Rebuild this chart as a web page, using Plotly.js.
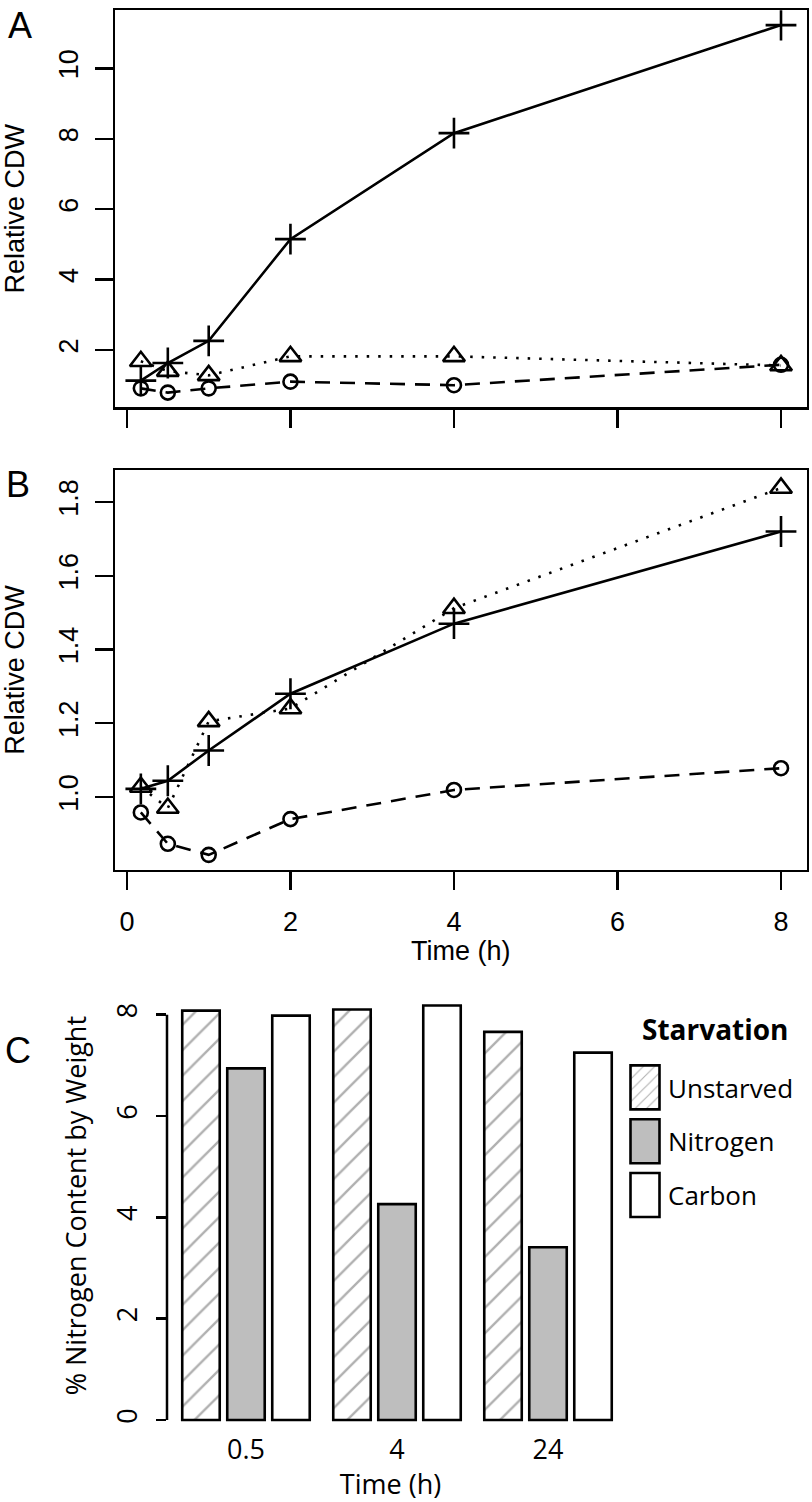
<!DOCTYPE html>
<html><head><meta charset="utf-8">
<script src="https://cdn.plot.ly/plotly-3.0.1.min.js"></script>
<style>body{margin:0;padding:0;background:#fff}#chart{width:812px;height:1502px}</style>
</head><body><div id="chart"></div>
<script>
// ---------- data ----------
const timesH = [0.17, 0.5, 1, 2, 4, 8];
// Panel A (Relative CDW)
const aPlus = [1.13, 1.63, 2.26, 5.15, 8.16, 11.23];
const aTriangle = [1.68, 1.40, 1.28, 1.82, 1.82, 1.56];
const aCircle = [0.91, 0.79, 0.91, 1.10, 1.00, 1.58];
// Panel B (Relative CDW)
const bPlus = [1.022, 1.044, 1.126, 1.28, 1.47, 1.72];
const bTriangle = [1.027, 0.970, 1.205, 1.240, 1.512, 1.838];
const bCircle = [0.958, 0.873, 0.843, 0.940, 1.019, 1.078];
// Panel C (% nitrogen content by weight)
const cTimes = ['0.5', '4', '24'];
const cUnstarved = [8.08, 8.10, 7.66];
const cNitrogen = [6.94, 4.26, 3.41];
const cCarbon = [7.98, 8.18, 7.25];
const cSeriesNames = ['Unstarved', 'Nitrogen', 'Carbon'];
// ticks
const xTicksAB = [0, 2, 4, 6, 8];
const yTicksA = [2, 4, 6, 8, 10];
const yTicksB = [1.0, 1.2, 1.4, 1.6, 1.8];
const yTickTextB = ['1.0', '1.2', '1.4', '1.6', '1.8'];
const yTicksC = [0, 2, 4, 6, 8];

// ---------- layout helpers ----------
const W = 812, H = 1502;
const px = v => v / W;
const py = v => 1 - v / H;
const helv = 'Liberation Sans, Arial, Helvetica, sans-serif';
const myriad = 'Open Sans, Noto Sans, sans-serif';
const black = '#000';

function lineTrace(y, xa, ya, symbol, msize, dash) {
  return {
    x: timesH, y: y, xaxis: xa, yaxis: ya, type: 'scatter', mode: 'lines+markers',
    showlegend: false, hoverinfo: 'skip',
    line: {color: black, width: 2.6, dash: dash},
    marker: {symbol: symbol, size: msize, color: black, line: {color: black, width: 2.6}}
  };
}
const DOT = '2.5px,9px';
const DASH = '15px,10px';

const traces = [
  lineTrace(aPlus, 'x', 'y', 'cross-thin-open', 22, 'solid'),
  lineTrace(aTriangle, 'x', 'y', 'triangle-up-open', 19, DOT),
  lineTrace(aCircle, 'x', 'y', 'circle-open', 14, DASH),
  lineTrace(bPlus, 'x2', 'y2', 'cross-thin-open', 22, 'solid'),
  lineTrace(bTriangle, 'x2', 'y2', 'triangle-up-open', 19, DOT),
  lineTrace(bCircle, 'x2', 'y2', 'circle-open', 14, DASH)
];

const barStyles = [
  {color: '#ffffff', pattern: {shape: '/', fgcolor: '#b0b0b0', bgcolor: '#ffffff', size: 18, solidity: 0.13}},
  {color: '#bebebe'},
  {color: '#ffffff'}
];
[cUnstarved, cNitrogen, cCarbon].forEach((vals, i) => {
  traces.push({
    type: 'bar', x: cTimes, y: vals, name: cSeriesNames[i], xaxis: 'x3', yaxis: 'y3',
    legendgroup: 'g' + i, hoverinfo: 'skip',
    marker: Object.assign({line: {color: black, width: 2.6}}, barStyles[i])
  });
});

const tickFontAB = {family: helv, size: 27, color: black};
const titleFontAB = {family: helv, size: 27, color: black};
const fontC = {family: myriad, size: 27, color: black};
function xAB(anchor, labels) {
  return {
    domain: [px(115), px(806.6)], range: [-0.146, 8.313], anchor: anchor,
    showline: true, mirror: true, linecolor: black, linewidth: 2.5,
    ticks: 'outside', ticklen: 18, tickwidth: 2.5, tickcolor: black,
    tickvals: xTicksAB, ticktext: xTicksAB.map(String), showticklabels: labels,
    showgrid: false, zeroline: false, tickfont: tickFontAB, ticklabelstandoff: 8
  };
}
function yAB(dom, range, tv, tt, anchor) {
  return {
    domain: dom, range: range, anchor: anchor,
    showline: true, mirror: true, linecolor: black, linewidth: 2.5,
    ticks: 'outside', ticklen: 18, tickwidth: 2.5, tickcolor: black,
    tickvals: tv, ticktext: tt, tickangle: -90,
    showgrid: false, zeroline: false, tickfont: tickFontAB, ticklabelstandoff: 6,
    title: {text: 'Relative CDW', font: titleFontAB, standoff: 22}
  };
}

const layout = {
  width: W, height: H, margin: {l: 0, r: 0, t: 0, b: 0},
  paper_bgcolor: '#fff', plot_bgcolor: '#fff',
  showlegend: true,
  barmode: 'group', bargap: 0.106, bargroupgap: 0.167,
  xaxis: xAB('y', false),
  yaxis: yAB([py(407.3), py(10.3)], [0.372, 11.65], yTicksA, yTicksA.map(String), 'x'),
  xaxis2: Object.assign(xAB('y2', true), {title: {text: 'Time (h)', font: titleFontAB, standoff: 4}}),
  yaxis2: yAB([py(869.6), py(470.3)], [0.803, 1.886], yTicksB, yTickTextB, 'x2'),
  xaxis3: {
    domain: [px(167), px(614)], range: [-0.523, 2.437], type: 'category', anchor: 'y3',
    showline: false, ticks: '', showgrid: false, zeroline: false,
    tickfont: fontC, ticklabelstandoff: 9,
    title: {text: 'Time (h)', font: fontC, standoff: 1}
  },
  yaxis3: {
    domain: [py(1422), py(989.3)], range: [-0.04, 8.5], anchor: 'x3',
    showline: false, showgrid: false, zeroline: false,
    ticks: 'outside', ticklen: 10, tickwidth: 2.5, tickcolor: black,
    tickvals: yTicksC, ticktext: yTicksC.map(String), tickangle: -90,
    tickfont: fontC, ticklabelstandoff: 8,
    title: {text: '% Nitrogen Content by Weight', font: fontC, standoff: 13}
  },
  shapes: [{
    type: 'line', xref: 'x3 domain', yref: 'y3', x0: 0, x1: 0,
    y0: Math.min(...yTicksC), y1: Math.max(...yTicksC),
    line: {color: black, width: 2.5}
  }],
  legend: {
    x: px(622), xanchor: 'left', y: py(1064), yanchor: 'top',
    traceorder: 'grouped', tracegroupgap: 17, itemwidth: 36,
    bgcolor: 'rgba(0,0,0,0)',
    font: {family: myriad, size: 26, color: black}
  },
  annotations: [
    {text: 'A', x: px(19.5), y: py(25), xref: 'paper', yref: 'paper', xanchor: 'center', yanchor: 'middle', showarrow: false, font: {family: helv, size: 36, color: black}},
    {text: 'B', x: px(17.5), y: py(485), xref: 'paper', yref: 'paper', xanchor: 'center', yanchor: 'middle', showarrow: false, font: {family: helv, size: 36, color: black}},
    {text: 'C', x: px(18), y: py(1050), xref: 'paper', yref: 'paper', xanchor: 'center', yanchor: 'middle', showarrow: false, font: {family: helv, size: 36, color: black}},
    {text: '<b>Starvation</b>', x: px(715), y: py(1029), xref: 'paper', yref: 'paper', xanchor: 'center', yanchor: 'middle', showarrow: false, font: {family: myriad, size: 28, color: black}}
  ]
};

Plotly.newPlot('chart', traces, layout, {staticPlot: true, displayModeBar: false}).then(gd => {
  // enlarge the legend swatches to the tall boxes of the original figure
  gd.querySelectorAll('.legend .legendpoints path').forEach(p => {
    p.setAttribute('d', 'M14.5,22H-14.5V-22H14.5Z');
  });
});
</script>
</body></html>
